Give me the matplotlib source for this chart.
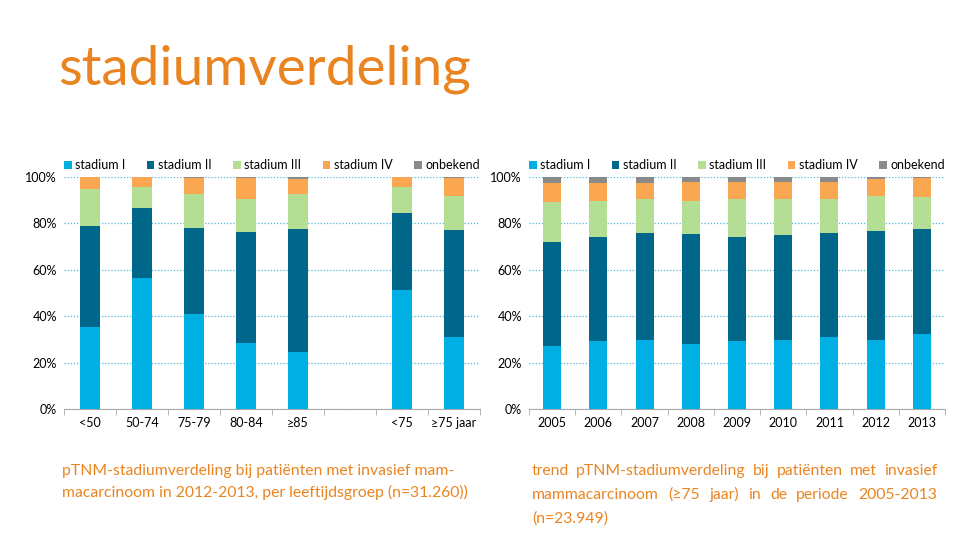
import matplotlib
matplotlib.use("Agg")
import matplotlib.pyplot as plt
import numpy as np

# leeftijdsgroepen 2012-2013 (lege plek tussen >=85 en <75)
groepen = ["<50", "50-74", "75-79", "80-84", "≥85", "", "<75", "≥75 jaar"]
g_st1 = [35.2, 56.3, 40.8, 28.4, 24.6, 0, 51.1, 31.2]
g_st2 = [43.5, 30.3, 37.2, 47.7, 53.1, 0, 33.5, 46.1]
g_st3 = [16.1, 9.2, 14.5, 14.4, 15.1, 0, 10.9, 14.7]
g_st4 = [5.0, 4.0, 7.2, 9.2, 6.3, 0, 4.4, 7.7]
g_onb = [0.2, 0.2, 0.3, 0.3, 0.9, 0, 0.1, 0.3]

# trend >=75 jaar
jaren = ["2005", "2006", "2007", "2008", "2009", "2010", "2011", "2012", "2013"]
j_st1 = [27.2, 29.5, 29.9, 27.9, 29.5, 29.6, 30.9, 29.9, 32.5]
j_st2 = [44.9, 44.6, 45.8, 47.5, 44.6, 45.5, 45.1, 46.8, 44.9]
j_st3 = [17.0, 15.7, 15.0, 14.4, 16.3, 15.3, 14.7, 15.3, 14.0]
j_st4 = [8.2, 7.5, 6.6, 8.2, 7.6, 7.3, 7.3, 7.1, 8.0]
j_onb = [2.7, 2.7, 2.7, 2.0, 2.0, 2.3, 2.0, 0.9, 0.6]

labels = ["stadium I", "stadium II", "stadium III", "stadium IV", "onbekend"]
colors = ["#00B0E4", "#00678A", "#B4DE94", "#FBA651", "#8A8A8A"]
orange = "#EA8420"

plt.rcParams['font.family'] = ['Lato', 'DejaVu Sans']

fig = plt.figure(figsize=(9.61, 5.41), dpi=100)
ax1 = fig.add_axes([64/961, 132/541, 416/961, 232/541])
ax2 = fig.add_axes([529/961, 132/541, 416/961, 232/541])


def stacked(ax, cats, series, width):
    x = np.arange(len(cats))
    bottom = np.zeros(len(cats))
    for vals, lab, col in zip(series, labels, colors):
        ax.bar(x, vals, width, bottom=bottom, color=col, label=lab, zorder=3)
        bottom += np.array(vals)
    ax.set_xlim(-0.5, len(cats) - 0.5)
    ax.set_ylim(0, 100)
    ax.set_yticks([0, 20, 40, 60, 80, 100])
    ax.set_yticklabels(["0%", "20%", "40%", "60%", "80%", "100%"])
    ax.set_xticks(x)
    ax.set_xticklabels(cats)
    ax.set_xticks(np.arange(len(cats) + 1) - 0.5, minor=True)
    ax.tick_params(axis='x', which='major', length=0, labelsize=9, pad=6)
    ax.tick_params(axis='x', which='minor', length=4, color="#AAAAAA")
    ax.tick_params(axis='y', length=0, labelsize=9, pad=5)
    for s in ["top", "right", "left"]:
        ax.spines[s].set_visible(False)
    ax.spines["bottom"].set_color("#AAAAAA")
    ax.grid(axis='y', color="#4FB8DC", linestyle=(0, (1, 1.5)), linewidth=0.9, zorder=0)
    ax.legend(loc='lower left', bbox_to_anchor=(0, 1.025, 1, 0.1), mode='expand',
              ncol=5, frameon=False, fontsize=9, handlelength=0.6, handleheight=0.6,
              handletextpad=0.3, borderaxespad=0, borderpad=0)


stacked(ax1, groepen, [g_st1, g_st2, g_st3, g_st4, g_onb], 0.4)
stacked(ax2, jaren, [j_st1, j_st2, j_st3, j_st4, j_onb], 0.39)

fig.text(58/961, 1 - 85/541, "stadiumverdeling", color=orange, fontsize=39.5,
         ha='left', va='baseline')

cap_l = ["pTNM-stadiumverdeling bij patiënten met invasief mam-",
         "macarcinoom in 2012-2013, per leeftijdsgroep (n=31.260))"]
for i, line in enumerate(cap_l):
    fig.text(62/961, 1 - (475 + i*22)/541, line, color=orange, fontsize=11.3,
             ha='left', va='baseline')

# rechter bijschrift, uitgevuld
cap_r = ["trend pTNM-stadiumverdeling bij patiënten met invasief",
         "mammacarcinoom (≥75 jaar) in de periode 2005-2013",
         "(n=23.949)"]
fig.canvas.draw()
r = fig.canvas.get_renderer()
x0, x1 = 532, 937
for i, line in enumerate(cap_r):
    y = 1 - (475 + i*24)/541
    if i == len(cap_r) - 1:
        fig.text(x0/961, y, line, color=orange, fontsize=11.3, ha='left', va='baseline')
        continue
    words = line.split(" ")
    ts = [fig.text(0, y, w, color=orange, fontsize=11.3, ha='left', va='baseline') for w in words]
    ws = [t.get_window_extent(r).width for t in ts]
    gap = (x1 - x0 - sum(ws)) / (len(words) - 1)
    xp = x0
    for t, w in zip(ts, ws):
        t.set_x(xp/961)
        xp += w + gap

fig.savefig("out.png", dpi=100)
